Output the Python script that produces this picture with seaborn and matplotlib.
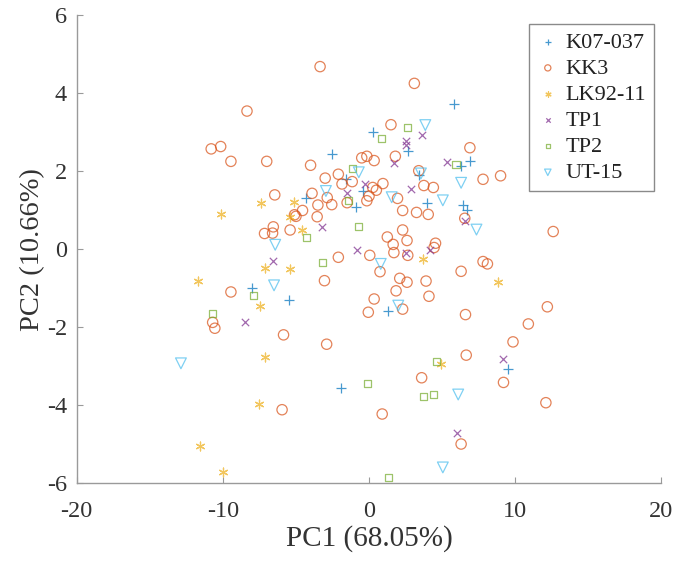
import matplotlib
matplotlib.use("Agg")
import matplotlib.pyplot as plt
import seaborn as sns
import pandas as pd

# ---- data ----
k07_x = [5.8, 0.3, -2.5, 2.7, 6.3, 6.9, -1.6, 3.4, -0.4, -4.3, -0.9, 4.0, 6.4, 6.7, -8.0, -5.5, 1.3, -1.9, 9.5]
k07_y = [3.73, 3.0, 2.45, 2.51, 2.14, 2.27, 1.8, 1.9, 1.5, 1.31, 1.09, 1.17, 1.13, 1.0, -0.99, -1.3, -1.58, -3.57, -3.07]

kk3_x = [-3.35, 3.1, -8.35, -10.8, -10.15, -9.45, -7.0, -4.0, 1.5, 6.9, -0.5, -0.15, 0.35, 1.8, 3.4, 9.0, 7.8,
         -3.0, -2.1, -1.85, -1.15, 0.25, 0.5, 0.95, 0.0, -0.15, 3.75, 4.4, 1.95, -2.86, -2.55, -3.5, -3.9, -4.55,
         -5.1, -5.0, -3.55, -6.45, -1.5, 2.3, 3.25, 4.05, 6.55, 12.6, -6.55, -6.6, -7.15, -5.4, 1.25, 2.3, 2.6,
         1.65, 1.7, 2.65, 4.55, 4.45, 0.05, -2.1, 7.8, 8.1, 0.75, 6.3, -3.05, 2.1, 2.6, 3.9, 1.85, 4.1, -9.45,
         0.35, 2.3, -0.05, 6.6, 12.2, 10.9, -10.7, -10.55, -5.85, -2.9, 9.85, 6.65, 3.6, 9.2, -5.95, 12.1, 0.9, 6.3]
kk3_y = [4.68, 4.25, 3.54, 2.57, 2.63, 2.25, 2.25, 2.15, 3.19, 2.6, 2.34, 2.38, 2.27, 2.38, 2.01, 1.88, 1.79,
         1.82, 1.92, 1.67, 1.73, 1.58, 1.51, 1.68, 1.36, 1.24, 1.63, 1.58, 1.3, 1.32, 1.14, 1.13, 1.43, 0.99,
         0.88, 0.84, 0.83, 1.39, 1.19, 0.99, 0.94, 0.89, 0.79, 0.45, 0.57, 0.41, 0.4, 0.49, 0.31, 0.49, 0.22,
         0.12, -0.09, -0.16, 0.15, 0.04, -0.16, -0.21, -0.32, -0.38, -0.58, -0.57, -0.81, -0.75, -0.85, -0.82, -1.07, -1.21, -1.1,
         -1.28, -1.54, -1.62, -1.68, -1.48, -1.92, -1.88, -2.03, -2.2, -2.44, -2.38, -2.72, -3.3, -3.42, -4.12, -3.94, -4.23, -5.0]

lk_x = [-10.1, -7.4, -5.1, -5.4, -4.6, -7.1, -5.4, -11.7, -7.45, 3.7, 8.8, -7.1, 4.95, -7.5, -11.55, -10.0]
lk_y = [0.9, 1.18, 1.22, 0.82, 0.5, -0.49, -0.5, -0.83, -1.46, -0.26, -0.84, -2.77, -2.95, -3.98, -5.06, -5.72]

tp1_x = [3.6, 2.55, 2.55, 1.7, 5.35, 2.85, -0.3, -1.5, -3.2, -6.6, -0.8, 2.55, 4.2, 6.6, -8.5, 9.2, 6.05]
tp1_y = [2.93, 2.77, 2.67, 2.22, 2.23, 1.53, 1.68, 1.45, 0.57, -0.3, -0.03, -0.09, -0.03, 0.73, -1.86, -2.83, -4.72]

tp2_x = [2.65, 0.85, 5.95, -1.15, -1.4, -0.7, -4.25, -3.2, -7.9, -10.7, -0.1, 4.6, 3.7, 4.4, 1.35]
tp2_y = [3.11, 2.83, 2.16, 2.07, 1.25, 0.57, 0.29, -0.34, -1.18, -1.65, -3.45, -2.88, -3.79, -3.72, -5.87]

ut_x = [3.85, 3.55, -0.7, -2.95, 1.55, 6.3, 5.05, 7.35, -6.42, 0.8, -6.5, 2.0, -12.87, 6.1, 5.05]
ut_y = [3.18, 1.94, 1.97, 1.49, 1.33, 1.7, 1.25, 0.5, 0.11, -0.38, -0.93, -1.45, -2.93, -3.73, -5.6]

groups = ["K07-037", "KK3", "LK92-11", "TP1", "TP2", "UT-15"]
xs = [k07_x, kk3_x, lk_x, tp1_x, tp2_x, ut_x]
ys = [k07_y, kk3_y, lk_y, tp1_y, tp2_y, ut_y]

frames = [pd.DataFrame({"PC1": x, "PC2": y, "group": g}) for g, x, y in zip(groups, xs, ys)]
df = pd.concat(frames, ignore_index=True)

# ---- styling ----
sns.set_theme(style="white")
plt.rcParams["font.family"] = ["Liberation Serif", "DejaVu Serif"]
plt.rcParams["axes.unicode_minus"] = False

colors = ["#0072BD", "#D95319", "#EDB120", "#7E2F8E", "#77AC30", "#4DBEEE"]
markers = ["+", "o", (6, 2, 0), "x", "s", "v"]
sizes = [55, 55, 40, 28, 26, 60]
filled = [False, True, False, False, True, True]

fig = plt.figure(figsize=(6.79, 5.61), dpi=100)
ax = fig.add_axes([0.113, 0.139, 0.861, 0.834])

for g, c, m, s, f in zip(groups, colors, markers, sizes, filled):
    sub = df[df["group"] == g]
    if f:
        sns.scatterplot(data=sub, x="PC1", y="PC2", ax=ax, marker=m, s=s,
                        color=c, facecolors="none", edgecolor=c, linewidth=0.9,
                        alpha=0.72, label=g)
    else:
        sns.scatterplot(data=sub, x="PC1", y="PC2", ax=ax, marker=m, s=s,
                        color=c, linewidth=0.9, alpha=0.72, label=g)

ax.set_xlim(-20, 20)
ax.set_ylim(-6, 6)
ax.set_xticks([-20, -10, 0, 10, 20])
ax.set_yticks([-6, -4, -2, 0, 2, 4, 6])
ax.set_xlabel("PC1 (68.05%)", fontsize=21, color="#333333", labelpad=2)
ax.set_ylabel("PC2 (10.66%)", fontsize=20.5, color="#333333", labelpad=1)

for side in ["top", "right"]:
    ax.spines[side].set_visible(False)
for side in ["left", "bottom"]:
    ax.spines[side].set_color("#9a9a9a")
    ax.spines[side].set_linewidth(1.0)

ax.tick_params(axis="both", direction="in", length=4, width=0.8, color="#9a9a9a",
               labelsize=17.5, labelcolor="#333333", bottom=True, left=True)
ax.tick_params(axis="x", pad=13)
ax.tick_params(axis="y", pad=7)

leg = ax.legend(loc="upper right", bbox_to_anchor=(0.995, 0.99), fontsize=16,
                frameon=True, fancybox=False, framealpha=1, edgecolor="#8a8a8a",
                markerscale=0.6, handletextpad=0.3, handlelength=1.0,
                borderpad=0.35, labelspacing=0.25, borderaxespad=0.2)
leg.get_frame().set_linewidth(1.0)
for t in leg.get_texts():
    t.set_color("#222222")

fig.savefig("out.png", dpi=100)
